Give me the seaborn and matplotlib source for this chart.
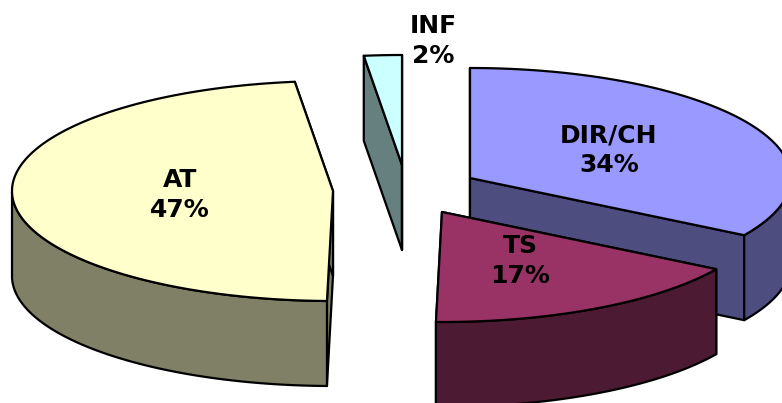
import numpy as np
import seaborn as sns
import matplotlib.pyplot as plt

# slices, clockwise from 12 o'clock
labels = ['DIR/CH', 'TS', 'AT', 'INF']
shares = [33.7, 16.6, 47.8, 1.9]
shown = ['34%', '17%', '47%', '2%']

colors = ['#9999FF', '#993366', '#FFFFCC', '#CCFFFF']
sides = ['#4D4D80', '#4D1A33', '#808066', '#668080']

# exploded apex of every slice, in image pixels
apex = [(470, 178), (442, 212), (333, 191), (402, 165)]
text_pos = [(609, 150), (520, 261), (180, 195), (433, 41)]
RX, RY, DEPTH = 321, 110, 85
LW = 1.6

sns.set_theme(style='white')
plt.rcParams['font.family'] = ['DejaVu Sans']

fig, ax = plt.subplots(figsize=(7.82, 4.03), dpi=100)
fig.subplots_adjust(0, 0, 1, 1)
ax.set_xlim(0, 782)
ax.set_ylim(403, 0)
ax.axis('off')


def rim(a, b, cx, cy):
    t = np.radians(np.linspace(a, b, 200))
    return cx + RX * np.sin(t), cy - RY * np.cos(t)


edges = np.concatenate([[0], np.cumsum(shares) * 3.6])
# back slices first
for i in [3, 2, 0, 1]:
    a, b = edges[i], edges[i + 1]
    cx, cy = apex[i]
    x, y = rim(a, b, cx, cy)

    # cut faces
    for ang in (a, b):
        ex, ey = rim(ang, ang, cx, cy)
        ex, ey = ex[0], ey[0]
        ax.fill([cx, ex, ex, cx], [cy, ey, ey + DEPTH, cy + DEPTH],
                facecolor=sides[i], edgecolor='black', lw=LW, joinstyle='round')

    # outer wall, where the rim faces down
    t = np.linspace(a, b, 200)
    front = (t > 90) & (t < 270)
    if front.any():
        wx, wy = x[front], y[front]
        ax.fill(np.r_[wx, wx[::-1]], np.r_[wy, wy[::-1] + DEPTH],
                facecolor=sides[i], edgecolor='black', lw=LW, joinstyle='round')

    ax.fill(np.r_[cx, x], np.r_[cy, y], facecolor=colors[i], edgecolor='black',
            lw=LW, joinstyle='round')

for name, pct, (tx, ty) in zip(labels, shown, text_pos):
    ax.text(tx, ty, name + '\n' + pct, ha='center', va='center', fontsize=18,
            fontweight='bold', color='black', linespacing=1.3)

fig.savefig('out.png', dpi=100)
